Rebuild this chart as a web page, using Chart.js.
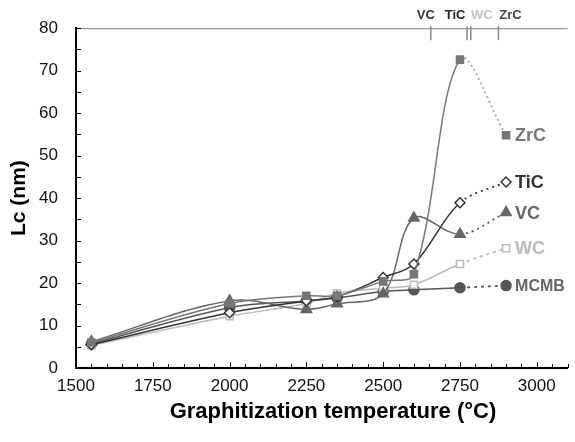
<!DOCTYPE html>
<html>
<head>
<meta charset="utf-8">
<script src="https://cdn.jsdelivr.net/npm/chart.js@4.4.1/dist/chart.umd.min.js"></script>
<style>
html,body{margin:0;padding:0;background:#fff;}
#wrap{width:575px;height:442px;}
</style>
</head>
<body>
<div id="wrap"><canvas id="c" width="575" height="442"></canvas></div>
<script>
// ---- data ----
const temps = [1550, 2000, 2250, 2350, 2500, 2600, 2750];
const calloutTemp = 2900;
const seriesNames = ['ZrC', 'TiC', 'VC', 'WC', 'MCMB'];
const zrc  = [6.0, 15.2, 17.0, 17.0, 20.4, 22.1, 72.6];
const tic  = [5.5, 13.0, 15.8, 16.8, 21.3, 24.5, 38.9];
const vc   = [6.2, 15.8, 13.8, 15.1, 17.5, 35.3, 31.5];
const wc   = [5.3, 12.2, 15.2, 17.6, 18.8, 19.6, 24.5];
const mcmb = [5.7, 14.2, 15.8, 16.5, 18.0, 18.4, 18.9];
const calloutValues = [54.8, 43.8, 36.6, 28.2, 19.4];
const xTicks = [1500, 1750, 2000, 2250, 2500, 2750, 3000];
const yTicks = [0, 10, 20, 30, 40, 50, 60, 70, 80];
const carbideNames = ['VC', 'TiC', 'WC', 'ZrC'];
const carbideTemps = [2655, 2773, 2785, 2875];

// ---- styles ----
const styles = [
  {line:'#777', conn:'#a8a8a8', bg:'#777', border:'#777', pt:'rect', r:5, text:'#777', dash:[2,3]},
  {line:'#333', conn:'#333', bg:'#fff', border:'#333', pt:'rectRot', r:5, text:'#333', dash:[2,4]},
  {line:'#666', conn:'#555', bg:'#666', border:'#666', pt:'triangle', r:6, text:'#666', dash:[2,4]},
  {line:'#bbb', conn:'#bbb', bg:'#fff', border:'#bbb', pt:'rect', r:5, text:'#bbb', dash:[3,4]},
  {line:'#555', conn:'#555', bg:'#555', border:'#555', pt:'circle', r:5, text:'#666', dash:[3,4]}
];
const carbideLabelStyle = [
  {color:'#333', dx:-5},
  {color:'#222', dx:-12},
  {color:'#c4c4c4', dx:11},
  {color:'#444', dx:12}
];
const allSeries = [zrc, tic, vc, wc, mcmb];

const datasets = allSeries.map((vals, i) => {
  const s = styles[i];
  const pts = temps.map((t, k) => ({x: t, y: vals[k]}));
  pts.push({x: calloutTemp, y: calloutValues[i]});
  const n = pts.length;
  return {
    label: seriesNames[i],
    data: pts,
    borderColor: s.line,
    borderWidth: 1.5,
    backgroundColor: s.bg,
    pointBackgroundColor: s.bg,
    pointBorderColor: s.border,
    pointBorderWidth: 1.5,
    pointStyle: s.pt,
    pointRadius: s.r,
    pointHoverRadius: s.r,
    tension: 0.35,
    fill: false,
    clip: false,
    segment: {
      borderDash: ctx => ctx.p1DataIndex === n - 1 ? s.dash : undefined,
      borderColor: ctx => ctx.p1DataIndex === n - 1 ? s.conn : undefined,
      borderWidth: ctx => ctx.p1DataIndex === n - 1 ? 1.8 : undefined
    }
  };
});

const decor = {
  id: 'decor',
  beforeDatasetsDraw(chart) {
    const {ctx, chartArea} = chart;
    const xs = chart.scales.x, ys = chart.scales.y;
    ctx.save();
    // top gray border
    ctx.strokeStyle = '#999';
    ctx.lineWidth = 1.2;
    ctx.beginPath();
    ctx.moveTo(chartArea.left, chartArea.top + 0.5);
    ctx.lineTo(chartArea.right, chartArea.top + 0.5);
    ctx.stroke();
    // inner tick marks
    ctx.strokeStyle = '#000';
    ctx.lineWidth = 1;
    for (let v = 1500; v <= 3100; v += 50) {
      const px = Math.round(xs.getPixelForValue(v)) + 0.5;
      const len = (v % 250 === 0) ? 6 : 4;
      ctx.beginPath();
      ctx.moveTo(px, chartArea.bottom);
      ctx.lineTo(px, chartArea.bottom - len);
      ctx.stroke();
    }
    for (let v = 0; v <= 80; v += 5) {
      const py = Math.round(ys.getPixelForValue(v)) + 0.5;
      ctx.beginPath();
      ctx.moveTo(chartArea.left, py);
      ctx.lineTo(chartArea.left + 5, py);
      ctx.stroke();
    }
    // carbide markers on top
    ctx.strokeStyle = '#888';
    ctx.lineWidth = 1.5;
    carbideTemps.forEach((t, i) => {
      const px = xs.getPixelForValue(t);
      ctx.beginPath();
      ctx.moveTo(px, chartArea.top - 2);
      ctx.lineTo(px, chartArea.top + 12);
      ctx.stroke();
    });
    ctx.font = 'bold 13px "Liberation Sans", Arial, sans-serif';
    ctx.textAlign = 'center';
    ctx.textBaseline = 'middle';
    carbideNames.forEach((name, i) => {
      const px = xs.getPixelForValue(carbideTemps[i]) + carbideLabelStyle[i].dx;
      ctx.fillStyle = carbideLabelStyle[i].color;
      ctx.fillText(name, px, 15);
    });
    ctx.restore();
  },
  afterDatasetsDraw(chart) {
    const {ctx, chartArea} = chart;
    ctx.save();
    // callout labels
    chart.data.datasets.forEach((ds, i) => {
      const meta = chart.getDatasetMeta(i);
      const el = meta.data[meta.data.length - 1];
      ctx.font = (i === 4 ? 'bold 16px ' : 'bold 18px ') + '"Liberation Sans", Arial, sans-serif';
      ctx.fillStyle = styles[i].text;
      ctx.textAlign = 'left';
      ctx.textBaseline = 'middle';
      ctx.fillText(ds.label, el.x + 9, el.y + 1);
    });
    // axis titles
    ctx.fillStyle = '#000';
    ctx.font = 'bold 22px "Liberation Sans", Arial, sans-serif';
    ctx.textAlign = 'center';
    ctx.textBaseline = 'middle';
    ctx.fillText('Graphitization temperature (°C)', 333, 412);
    ctx.translate(19, (chartArea.top + chartArea.bottom) / 2);
    ctx.rotate(-Math.PI / 2);
    ctx.font = 'bold 21px "Liberation Sans", Arial, sans-serif';
    ctx.fillText('Lc (nm)', 0, 0);
    ctx.restore();
  }
};

new Chart(document.getElementById('c'), {
  type: 'line',
  data: {datasets},
  plugins: [decor],
  options: {
    responsive: false,
    animation: false,
    devicePixelRatio: 1,
    layout: {padding: {top: 25, right: 0, left: 0, bottom: 0}},
    plugins: {legend: {display: false}, tooltip: {enabled: false}},
    scales: {
      x: {
        type: 'linear',
        min: 1500, max: 3100,
        afterBuildTicks: s => { s.ticks = xTicks.map(v => ({value: v})); },
        afterFit: s => { s.height = 74; },
        grid: {display: false, drawTicks: false},
        border: {display: true, color: '#000', width: 2},
        ticks: {
          font: {size: 17, family: '"Liberation Sans", Arial, sans-serif'},
          color: '#111',
          padding: 8,
          maxRotation: 0,
          autoSkip: false,
          callback: v => String(v)
        }
      },
      y: {
        type: 'linear',
        min: 0, max: 80,
        afterBuildTicks: s => { s.ticks = yTicks.map(v => ({value: v})); },
        afterFit: s => { s.width = 76; },
        grid: {display: false, drawTicks: false},
        border: {display: true, color: '#000', width: 2},
        ticks: {
          font: {size: 17, family: '"Liberation Sans", Arial, sans-serif'},
          color: '#111',
          padding: 18,
          callback: v => String(v)
        }
      }
    }
  }
});
</script>
</body>
</html>
